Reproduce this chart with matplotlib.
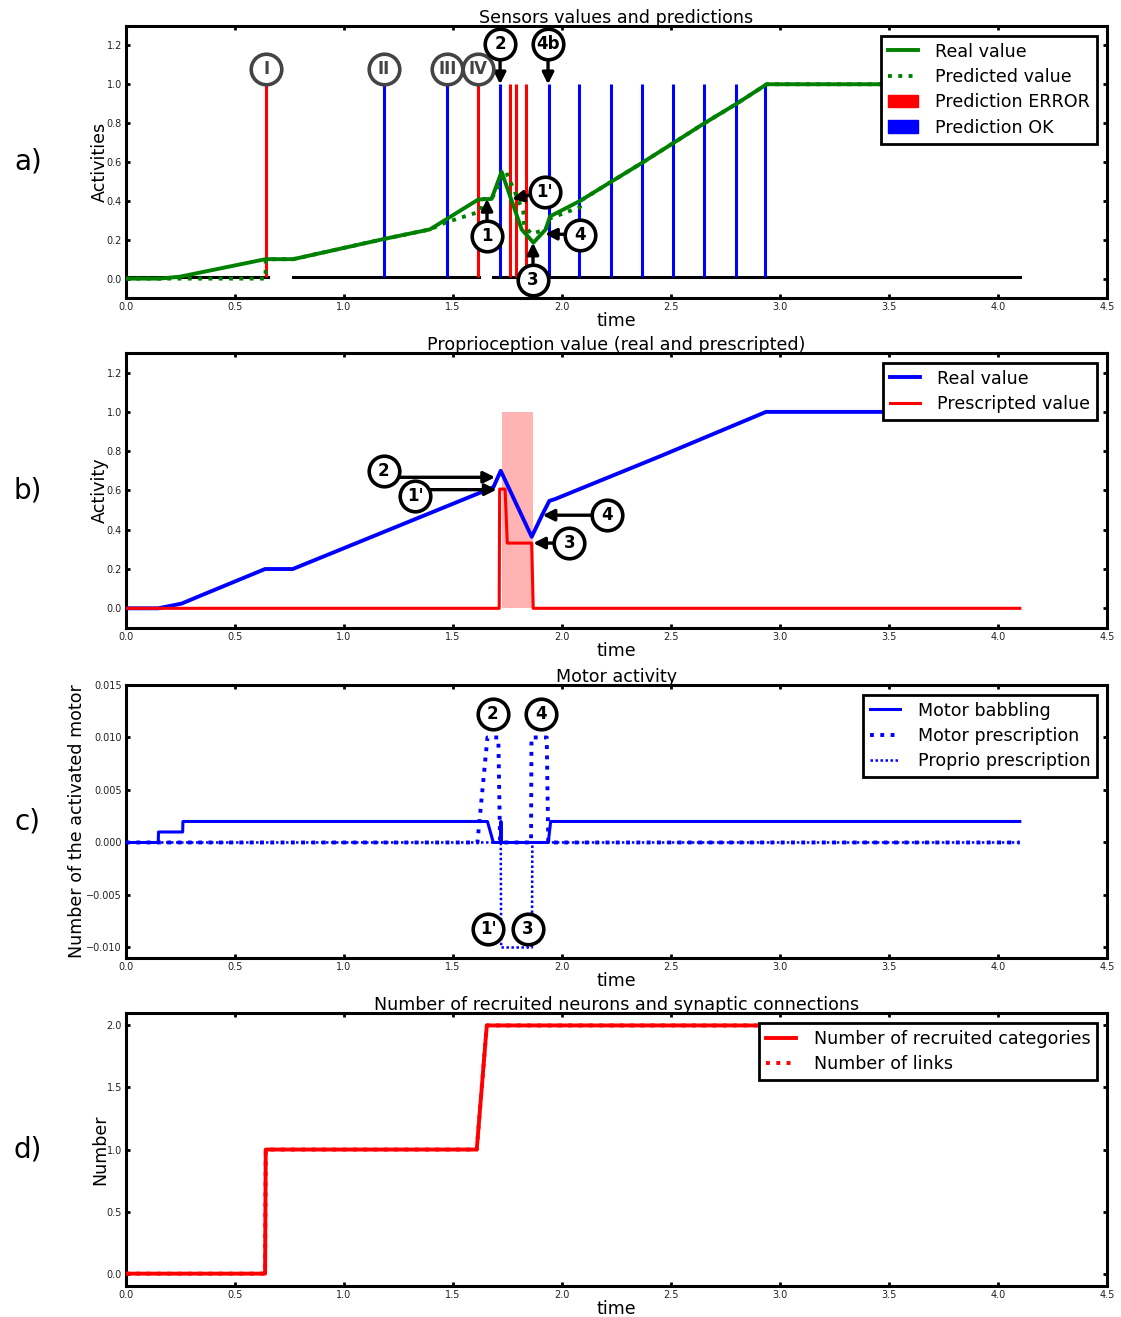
import numpy as np
import matplotlib
matplotlib.use("Agg")
import matplotlib.pyplot as plt
from matplotlib.patches import Patch

plt.rcParams['font.family'] = ['DejaVu Sans']

# ---------------- data ----------------
# panel a: sensors
sens_t = [0.0, 0.156, 0.248, 0.640, 0.767, 1.188, 1.394, 1.616, 1.677, 1.723, 1.815, 1.869,
          1.925, 1.945, 2.083, 2.228, 2.365, 2.510, 2.651, 2.797, 2.939, 4.10]
sens_real = [0.0, 0.0, 0.01, 0.10, 0.10, 0.205, 0.253, 0.407, 0.41, 0.55, 0.253, 0.185,
             0.253, 0.32, 0.40, 0.50, 0.594, 0.697, 0.798, 0.897, 1.0, 1.0]
pred_t = [0.0, 0.640, 0.641, 0.767, 1.188, 1.394, 1.470, 1.624, 1.640, 1.677, 1.743, 1.784,
          1.823, 1.826, 1.860, 1.925, 1.945, 2.083, 2.084, 2.228, 2.365, 2.510, 2.651, 2.797,
          2.939, 4.10]
pred_val = [0.0, 0.0, 0.10, 0.10, 0.205, 0.253, 0.29, 0.345, 0.41, 0.41, 0.55, 0.445,
            0.342, 0.274, 0.23, 0.253, 0.31, 0.368, 0.40, 0.50, 0.594, 0.697, 0.798, 0.897,
            1.0, 1.0]
base_start = [0.0, 0.764, 1.685]
base_end = [0.653, 1.621, 4.10]
base_level = 0.01
err_t = [0.644, 1.616, 1.761, 1.789, 1.833]
ok_t = [1.183, 1.474, 1.716, 1.942, 2.080, 2.226, 2.368, 2.511, 2.651, 2.797, 2.933]
bar_low, bar_high = 0.01, 1.0

# panel b: proprioception
prop_t = [0.0, 0.148, 0.255, 0.339, 0.638, 0.765, 1.685, 1.719, 1.861, 1.911, 1.942, 1.968,
          2.45, 2.936, 4.10]
prop_real = [0.0, 0.0, 0.024, 0.063, 0.2, 0.2, 0.616, 0.70, 0.364, 0.48, 0.547, 0.556,
             0.774, 1.0, 1.0]
presc_t = [0.0, 1.712, 1.714, 1.739, 1.749, 1.861, 1.868, 4.10]
presc_val = [0.0, 0.0, 0.607, 0.607, 0.332, 0.332, 0.0, 0.0]
span_t = [1.723, 1.865]
span_top = 1.0

# panel c: motor activity
babble_t = [0.0, 0.148, 0.149, 0.260, 0.261, 1.658, 1.685, 1.719, 1.720, 1.721, 1.937, 1.948, 4.10]
babble_v = [0.0, 0.0, 0.001, 0.001, 0.002, 0.002, 0.0, 0.0, 0.002, 0.0, 0.0, 0.002, 0.002]
motor_t = [0.0, 1.612, 1.658, 1.708, 1.716, 1.858, 1.860, 1.930, 1.937, 4.10]
motor_v = [0.0, 0.0, 0.01, 0.01, 0.0, 0.0, 0.01, 0.01, 0.0, 0.0]
proprio_t = [0.0, 1.719, 1.721, 1.862, 1.864, 4.10]
proprio_v = [0.0, 0.0, -0.01, -0.01, 0.0, 0.0]

# panel d: recruitment
rec_t = [0.0, 0.638, 0.641, 1.609, 1.655, 4.10]
rec_cat = [0, 0, 1, 1, 2, 2]
rec_links = [0, 0, 1, 1, 2, 2]

xticks = [0.0, 0.5, 1.0, 1.5, 2.0, 2.5, 3.0, 3.5, 4.0, 4.5]

FS = 12.6

# ---------------- figure ----------------
fig = plt.figure(figsize=(11.21, 13.17), dpi=100)
L, W = 0.1124, 0.8751
axa = fig.add_axes([L, 0.7737, W, 0.2066])
axb = fig.add_axes([L, 0.5232, W, 0.2088])
axc = fig.add_axes([L, 0.2726, W, 0.2073])
axd = fig.add_axes([L, 0.0235, W, 0.2073])

def style(ax, title, ylabel, letter, ylab_pad=-2):
    ax.set_xlim(0, 4.5)
    ax.set_xticks(xticks)
    ax.xaxis.set_major_formatter(matplotlib.ticker.FormatStrFormatter('%.1f'))
    for s in ax.spines.values():
        s.set_linewidth(2.2)
    ax.tick_params(direction='in', top=True, right=True, length=3, width=2,
                   labelsize=7, pad=3, colors='black', labelcolor='#222222')
    ax.set_title(title, fontsize=FS, pad=2)
    ax.set_xlabel('time', fontsize=FS, labelpad=0)
    ax.set_ylabel(ylabel, fontsize=FS, labelpad=ylab_pad)
    ax.text(-0.1, 0.5, letter, transform=ax.transAxes, fontsize=20,
            ha='center', va='center')

LEG = dict(loc='upper right', fontsize=FS, fancybox=False, framealpha=1,
           edgecolor='black', borderaxespad=0.55, handlelength=1.7,
           labelspacing=0.42, handletextpad=1.0)

def legend(ax, handles=None, labels=None):
    if handles is not None:
        lg = ax.legend(handles, labels, **LEG)
    else:
        lg = ax.legend(**LEG)
    lg.get_frame().set_linewidth(2)
    return lg

def badge(ax, x, y, label, color='black', target=None, horizontal=False):
    ax.plot([x], [y], 'o', ms=22, mfc='white', mec=color, mew=2.6, zorder=8, clip_on=False)
    ax.text(x, y, label, ha='center', va='center', fontsize=12, fontweight='bold',
            color=color, zorder=9)
    if target is not None:
        start = (x, target[1]) if horizontal else (x, y)
        ax.annotate('', xy=target, xytext=start,
                    arrowprops=dict(arrowstyle='-|>', color='black', lw=2.4,
                                    shrinkA=0 if horizontal else 12, shrinkB=0,
                                    mutation_scale=17),
                    zorder=7)

# ---- panel a ----
for s0, s1 in zip(base_start, base_end):
    axa.plot([s0, s1], [base_level, base_level], color='black', lw=2.2, zorder=2)
axa.vlines(err_t, bar_low, bar_high, colors='red', lw=2.2, zorder=3)
axa.vlines(ok_t, bar_low, bar_high, colors='blue', lw=2.2, zorder=3)
axa.plot(sens_t, sens_real, color='green', lw=2.8, zorder=4)
axa.plot(pred_t, pred_val, color='green', lw=2.8, ls=':', zorder=4)
axa.set_ylim(-0.1, 1.3)
axa.set_yticks([0.0, 0.2, 0.4, 0.6, 0.8, 1.0, 1.2])
axa.yaxis.set_major_formatter(matplotlib.ticker.FormatStrFormatter('%.1f'))
style(axa, 'Sensors values and predictions', 'Activities', 'a)')
h = [plt.Line2D([], [], color='green', lw=2.8),
     plt.Line2D([], [], color='green', lw=2.8, ls=':'),
     Patch(color='red'), Patch(color='blue')]
legend(axa, h, ['Real value', 'Predicted value', 'Prediction ERROR', 'Prediction OK'])

grey = '#444444'
for lab, xx in zip(['I', 'II', 'III', 'IV'], [err_t[0], ok_t[0], ok_t[1], err_t[1]]):
    badge(axa, xx, 1.077, lab, color=grey)
badge(axa, 1.716, 1.205, '2', target=(1.716, 1.0))
badge(axa, 1.936, 1.205, '4b', target=(1.936, 1.0))
badge(axa, 1.656, 0.22, '1', target=(1.656, 0.41))
badge(axa, 1.922, 0.446, "1'", target=(1.77, 0.41))
badge(axa, 2.083, 0.226, '4', target=(1.922, 0.23))
badge(axa, 1.867, -0.005, '3', target=(1.867, 0.185))

# ---- panel b ----
axb.fill_between(span_t, 0, span_top, color='#ffb3b3', lw=0, zorder=1)
axb.plot(prop_t, prop_real, color='blue', lw=2.8, zorder=3, label='Real value')
axb.plot(presc_t, presc_val, color='red', lw=2.2, zorder=4, label='Prescripted value')
axb.set_ylim(-0.1, 1.3)
axb.set_yticks([0.0, 0.2, 0.4, 0.6, 0.8, 1.0, 1.2])
axb.yaxis.set_major_formatter(matplotlib.ticker.FormatStrFormatter('%.1f'))
style(axb, 'Proprioception value (real and prescripted)', 'Activity', 'b)')
legend(axb)
badge(axb, 1.183, 0.70, '2', target=(1.693, 0.667), horizontal=True)
badge(axb, 1.326, 0.573, "1'", target=(1.70, 0.604), horizontal=True)
badge(axb, 2.205, 0.474, '4', target=(1.911, 0.474), horizontal=True)
badge(axb, 2.034, 0.332, '3', target=(1.868, 0.332), horizontal=True)

# ---- panel c ----
axc.plot(babble_t, babble_v, color='blue', lw=2.2, zorder=3, label='Motor babbling')
axc.plot(motor_t, motor_v, color='blue', lw=2.8, ls=':', zorder=3, label='Motor prescription')
axc.plot(proprio_t, proprio_v, color='blue', lw=1.8, ls=(0, (1, 1)), zorder=3,
         label='Proprio prescription')
axc.set_ylim(-0.011, 0.015)
axc.set_yticks([-0.010, -0.005, 0.0, 0.005, 0.010, 0.015])
axc.yaxis.set_major_formatter(matplotlib.ticker.FuncFormatter(
    lambda v, p: ('%.3f' % v).replace('-', '\u2212')))
style(axc, 'Motor activity', 'Number of the activated motor', 'c)', ylab_pad=0)
legend(axc)
badge(axc, 1.683, 0.0122, '2')
badge(axc, 1.904, 0.0122, '4')
badge(axc, 1.661, -0.0082, "1'")
badge(axc, 1.844, -0.0082, '3')

# ---- panel d ----
axd.plot(rec_t, rec_cat, color='red', lw=2.8, zorder=3, label='Number of recruited categories')
axd.plot(rec_t, rec_links, color='red', lw=2.8, ls=':', zorder=3, label='Number of links')
axd.set_ylim(-0.1, 2.1)
axd.set_yticks([0.0, 0.5, 1.0, 1.5, 2.0])
axd.yaxis.set_major_formatter(matplotlib.ticker.FormatStrFormatter('%.1f'))
style(axd, 'Number of recruited neurons and synaptic connections', 'Number', 'd)')
legend(axd)

fig.savefig('out.png', dpi=100)
